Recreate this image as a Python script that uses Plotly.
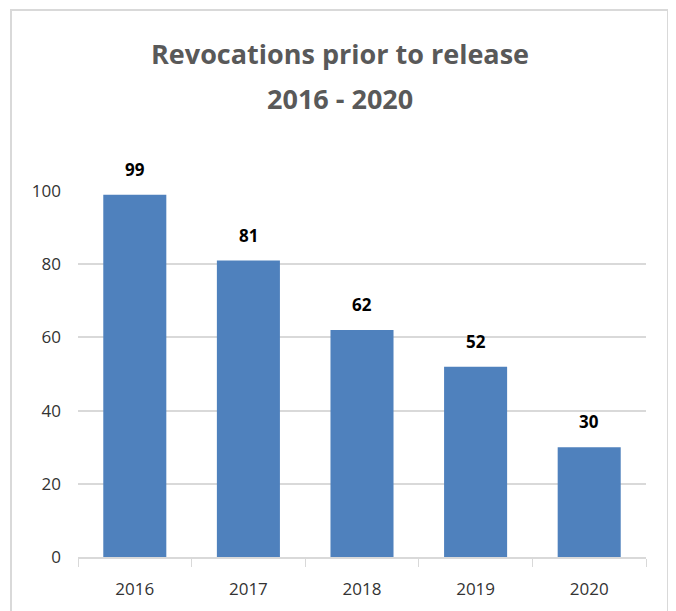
import plotly.graph_objects as go

years = ["2016", "2017", "2018", "2019", "2020"]
revocations = [99, 81, 62, 52, 30]
y_ticks = [0, 20, 40, 60, 80, 100]
title_lines = ["Revocations prior to release", "2016 - 2020"]

W, H = 676, 611
OFF = 8  # page body margin offset
# desired page-pixel positions of plot area
PL, PR, PT, PB = 78, 646, 191, 557
L = PL - OFF
T = PT - OFF
R = W - (PR - OFF)
B = H - (PB - OFF)
pw, ph = W - L - R, H - T - B

def px_x(px):
    return (px - PL) / pw

def px_y(py):
    return (PB - py) / ph

fig = go.Figure(go.Bar(
    x=years, y=revocations,
    marker=dict(color="#4F81BD", line=dict(width=0)),
    width=0.555,
    cliponaxis=False,
))

annotations = []
for i, v in enumerate(revocations):
    annotations.append(dict(
        x=i, y=v, xref="x", yref="y", text=f"<b>{v}</b>",
        showarrow=False, yanchor="bottom", yshift=12,
        font=dict(family="Open Sans", size=17, color="#000000"),
    ))
for i, line in enumerate(title_lines):
    annotations.append(dict(
        x=px_x(340), y=px_y(54 + 45 * i), xref="paper", yref="paper",
        text=f"<b>{line}</b>", showarrow=False,
        xanchor="center", yanchor="middle",
        font=dict(family="Open Sans", size=27, color="#595959"),
    ))

fig.update_layout(
    width=W, height=H,
    margin=dict(l=L, r=R, t=T, b=B, autoexpand=False),
    paper_bgcolor="white", plot_bgcolor="white",
    showlegend=False,
    annotations=annotations,
    xaxis=dict(
        type="category",
        showline=True, linecolor="#D9D9D9", linewidth=1.5,
        ticks="outside", tickson="boundaries", ticklen=8, tickcolor="#D9D9D9",
        tickfont=dict(family="Open Sans", size=17, color="#333333"),
        ticklabelstandoff=16, tickangle=0,
        showgrid=False,
    ),
    yaxis=dict(
        range=[0, 100], tickvals=y_ticks,
        showgrid=True, gridcolor="#D9D9D9", gridwidth=1.5,
        zeroline=False, showline=False,
        tickfont=dict(family="Open Sans", size=17, color="#333333"),
        ticklabelstandoff=16,
    ),
    shapes=[dict(
        type="rect", xref="paper", yref="paper",
        x0=px_x(11), x1=px_x(668),
        y0=px_y(640), y1=px_y(10),
        line=dict(color="#D9D9D9", width=2), fillcolor="rgba(0,0,0,0)",
        layer="below",
    )],
)

fig.write_html("out.html")
